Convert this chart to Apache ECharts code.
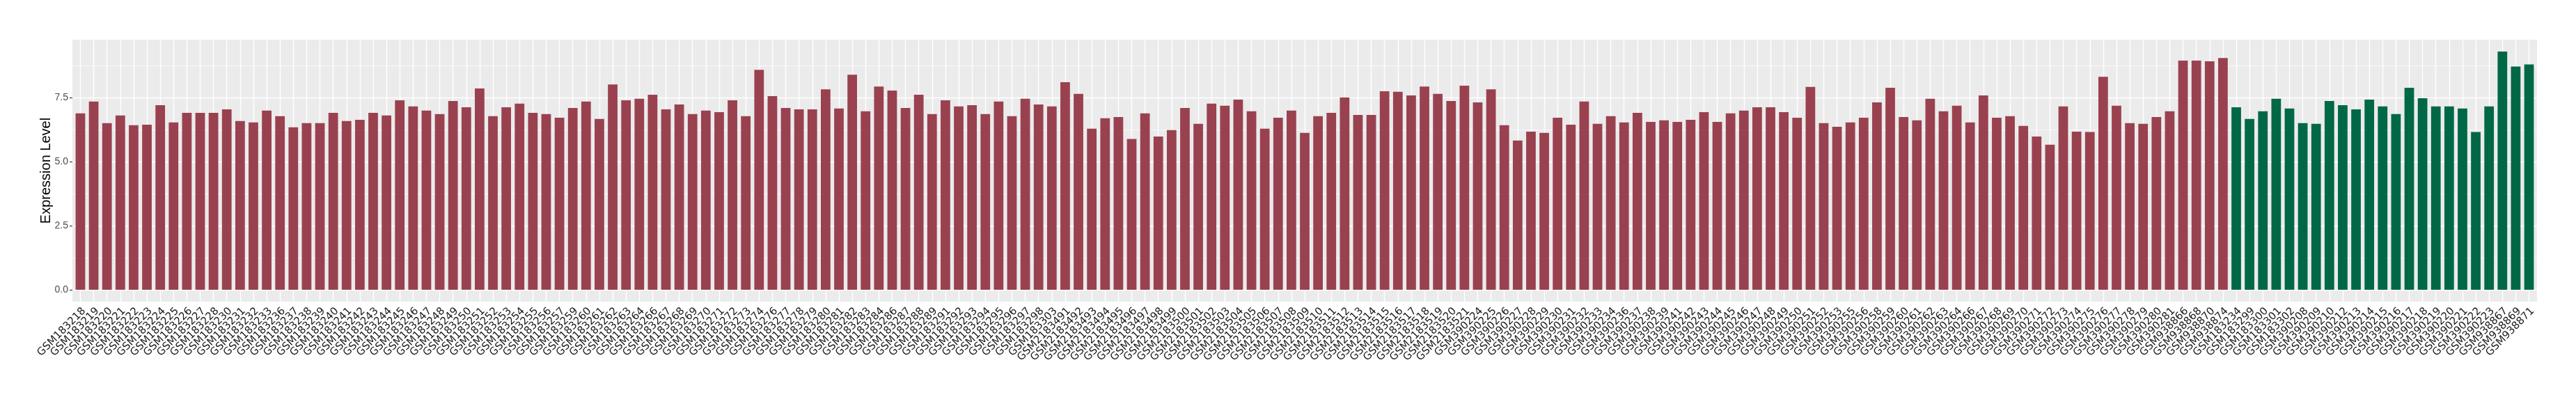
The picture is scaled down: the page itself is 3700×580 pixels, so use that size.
<!DOCTYPE html>
<html>
<head>
<meta charset="utf-8">
<script src="https://cdn.jsdelivr.net/npm/echarts@6/dist/echarts.min.js"></script>
<style>
  html, body { margin: 0; background: #fff; }
  #chart { width: 3700px; height: 580px; }
</style>
</head>
<body>
<div id="chart"></div>
<script>
// red group
const caseSamples = [
  'GSM183218','GSM183219','GSM183220','GSM183221','GSM183222','GSM183223','GSM183224','GSM183225','GSM183226','GSM183227',
  'GSM183228','GSM183230','GSM183231','GSM183232','GSM183233','GSM183236','GSM183237','GSM183238','GSM183239','GSM183240',
  'GSM183241','GSM183242','GSM183243','GSM183244','GSM183245','GSM183246','GSM183247','GSM183248','GSM183249','GSM183250',
  'GSM183251','GSM183252','GSM183253','GSM183254','GSM183255','GSM183256','GSM183257','GSM183259','GSM183260','GSM183261',
  'GSM183262','GSM183263','GSM183264','GSM183266','GSM183267','GSM183268','GSM183269','GSM183270','GSM183271','GSM183272',
  'GSM183273','GSM183274','GSM183276','GSM183277','GSM183278','GSM183279','GSM183280','GSM183281','GSM183282','GSM183283',
  'GSM183284','GSM183286','GSM183287','GSM183288','GSM183289','GSM183291','GSM183292','GSM183293','GSM183294','GSM183295',
  'GSM183296','GSM183297','GSM183298','GSM183303','GSM2183491','GSM2183492','GSM2183493','GSM2183494','GSM2183495','GSM2183496',
  'GSM2183497','GSM2183498','GSM2183499','GSM2183500','GSM2183501','GSM2183502','GSM2183503','GSM2183504','GSM2183505','GSM2183506',
  'GSM2183507','GSM2183508','GSM2183509','GSM2183510','GSM2183511','GSM2183512','GSM2183513','GSM2183514','GSM2183515','GSM2183516',
  'GSM2183517','GSM2183518','GSM2183519','GSM2183520','GSM2183521','GSM390224','GSM390225','GSM390226','GSM390227','GSM390228',
  'GSM390229','GSM390230','GSM390231','GSM390232','GSM390233','GSM390234','GSM390236','GSM390237','GSM390238','GSM390239',
  'GSM390241','GSM390242','GSM390243','GSM390244','GSM390245','GSM390246','GSM390247','GSM390248','GSM390249','GSM390250',
  'GSM390251','GSM390252','GSM390253','GSM390255','GSM390256','GSM390258','GSM390259','GSM390260','GSM390261','GSM390262',
  'GSM390263','GSM390264','GSM390266','GSM390267','GSM390268','GSM390269','GSM390270','GSM390271','GSM390272','GSM390273',
  'GSM390274','GSM390275','GSM390276','GSM390277','GSM390278','GSM390279','GSM390280','GSM390281','GSM938866','GSM938868',
  'GSM938870','GSM938874'
]
const caseValues = [
  6.88, 7.34, 6.50, 6.80, 6.42, 6.44, 7.20, 6.53, 6.90, 6.90,
  6.90, 7.04, 6.58, 6.53, 6.99, 6.77, 6.34, 6.50, 6.50, 6.90,
  6.58, 6.63, 6.90, 6.80, 7.39, 7.15, 6.99, 6.85, 7.36, 7.12,
  7.85, 6.77, 7.12, 7.26, 6.90, 6.85, 6.71, 7.09, 7.34, 6.66,
  8.01, 7.39, 7.45, 7.61, 7.04, 7.23, 6.85, 6.99, 6.93, 7.39,
  6.77, 8.58, 7.55, 7.09, 7.04, 7.04, 7.82, 7.07, 8.39, 6.96,
  7.93, 7.77, 7.09, 7.61, 6.85, 7.39, 7.15, 7.20, 6.85, 7.34,
  6.77, 7.45, 7.23, 7.15, 8.10, 7.64, 6.28, 6.69, 6.74, 5.88,
  6.88, 5.98, 6.23, 7.09, 6.47, 7.26, 7.18, 7.42, 6.96, 6.28,
  6.71, 6.99, 6.12, 6.77, 6.90, 7.50, 6.82, 6.82, 7.74, 7.72,
  7.58, 7.93, 7.64, 7.36, 7.96, 7.31, 7.82, 6.42, 5.82, 6.17,
  6.12, 6.71, 6.44, 7.34, 6.47, 6.77, 6.53, 6.90, 6.55, 6.61,
  6.55, 6.63, 6.93, 6.55, 6.88, 6.99, 7.12, 7.12, 6.93, 6.71,
  7.91, 6.50, 6.36, 6.53, 6.71, 7.31, 7.88, 6.74, 6.61, 7.45,
  6.96, 7.18, 6.53, 7.58, 6.71, 6.77, 6.39, 5.98, 5.66, 7.15,
  6.17, 6.15, 8.31, 7.18, 6.50, 6.47, 6.74, 6.96, 8.94, 8.94,
  8.91, 9.04
]

// green group
const controlSamples = [
  'GSM183234','GSM183299','GSM183300','GSM183301','GSM183302','GSM390208','GSM390209','GSM390210','GSM390212','GSM390213',
  'GSM390214','GSM390215','GSM390216','GSM390217','GSM390218','GSM390219','GSM390220','GSM390221','GSM390222','GSM390223',
  'GSM938867','GSM938869','GSM938871'
]
const controlValues = [
  7.12, 6.66, 6.96, 7.45, 7.07, 6.50, 6.47, 7.36, 7.20, 7.04,
  7.42, 7.15, 6.85, 7.88, 7.47, 7.15, 7.15, 7.07, 6.15, 7.15,
  9.29, 8.71, 8.79
]

const yTicks = [0, 2.5, 5, 7.5]
const yMinorTicks = [1.25, 3.75, 6.25, 8.75]

const samples = caseSamples.concat(controlSamples)
const caseData = caseValues.concat(controlValues.map(() => null))
const controlData = caseValues.map(() => null).concat(controlValues)

// ggplot style range: 5% expansion on the y axis, 0.6 band on each x side
const dataMax = Math.max(...caseValues, ...controlValues)
const yMin = -0.05 * dataMax
const yMax = dataMax * 1.05

const panel = { left: 104, right: 56, top: 57, bottom: 147 }
const panelWidth = 3700 - panel.left - panel.right
const inset = 0.1 * panelWidth / (samples.length + 0.2)

const chart = echarts.init(document.getElementById('chart'))

const option = {
  animation: false,
  backgroundColor: '#ffffff',
  grid: [
    {
      left: panel.left, right: panel.right, top: panel.top, bottom: panel.bottom,
      show: true, backgroundColor: '#EBEBEB', borderWidth: 0,
    },
    {
      left: panel.left + inset, right: panel.right + inset, top: panel.top, bottom: panel.bottom,
      show: false,
    },
  ],
  xAxis: [
    { gridIndex: 0, type: 'value', min: 0, max: 1, show: false },
    {
      gridIndex: 1,
      type: 'category',
      data: samples,
      axisLine: { show: false },
      axisTick: { alignWithLabel: true, length: 4, lineStyle: { color: '#333333', width: 1.1 } },
      splitLine: { show: true, alignWithLabel: true, lineStyle: { color: '#ffffff', width: 1.4 } },
      axisLabel: {
        interval: 0,
        rotate: 45,
        align: 'right',
        verticalAlign: 'top',
        margin: 6,
        fontFamily: 'DejaVu Sans',
        fontSize: 15,
        color: '#1A1A1A',
      },
    },
  ],
  yAxis: [
    {
      gridIndex: 0,
      type: 'value',
      min: yMin,
      max: yMax,
      name: 'Expression Level',
      nameLocation: 'middle',
      nameGap: 28,
      nameMoveOverlap: false,
      nameTextStyle: { fontFamily: 'Liberation Sans', fontSize: 20, color: '#000000' },
      axisLine: { show: false },
      axisTick: { show: true, customValues: yTicks, length: 4, lineStyle: { color: '#333333', width: 1.1 } },
      axisLabel: {
        customValues: yTicks,
        formatter: (v) => v.toFixed(1),
        margin: 6,
        fontFamily: 'Liberation Sans',
        fontSize: 14,
        color: '#4D4D4D',
      },
      splitLine: { show: false },
    },
    { gridIndex: 1, type: 'value', min: yMin, max: yMax, show: false, splitLine: { show: false } },
  ],
  series: [
    {
      type: 'line',
      xAxisIndex: 0,
      yAxisIndex: 0,
      data: [],
      silent: true,
      z: 1,
      markLine: {
        silent: true,
        symbol: ['none', 'none'],
        label: { show: false },
        z: 1,
        data: yTicks.map(v => ({ yAxis: v, lineStyle: { color: '#ffffff', width: 1.4, type: 'solid' } }))
          .concat(yMinorTicks.map(v => ({ yAxis: v, lineStyle: { color: '#ffffff', width: 0.7, type: 'solid' } }))),
      },
    },
    {
      name: 'case',
      type: 'bar',
      xAxisIndex: 1,
      yAxisIndex: 1,
      data: caseData,
      barWidth: '72%',
      barGap: '-100%',
      itemStyle: { color: '#9A4150' },
      z: 3,
    },
    {
      name: 'control',
      type: 'bar',
      xAxisIndex: 1,
      yAxisIndex: 1,
      data: controlData,
      barWidth: '72%',
      barGap: '-100%',
      itemStyle: { color: '#006847' },
      z: 3,
    },
  ],
}

chart.setOption(option)
</script>
</body>
</html>
